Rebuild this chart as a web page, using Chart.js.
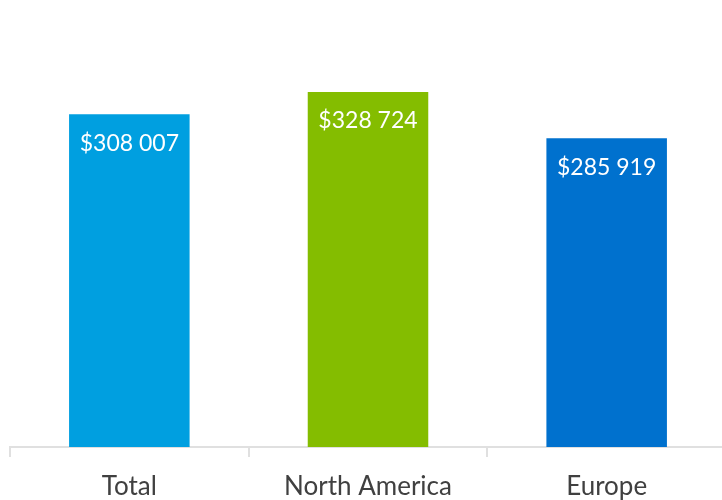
<!DOCTYPE html>
<html>
<head>
<meta charset="utf-8">
<script src="https://cdn.jsdelivr.net/npm/chart.js@4"></script>
<style>
  html, body { margin: 0; padding: 0; background: #fff; overflow: hidden; }
  #clip { width: 722px; height: 500px; overflow: hidden; }
  #wrap { width: 726px; height: 500px; }
</style>
</head>
<body>
<div id="clip"><div id="wrap"><canvas id="myChart"></canvas></div></div>
<script>
"use strict";

const categories = ["Total", "North America", "Europe"];
const values = [308007, 328724, 285919];
const barColors = ["#009FE0", "#84BD00", "#0071CE"];

// "$308 007" style
const money = (v) => "$" + v.toString().replace(/\B(?=(\d{3})+(?!\d))/g, " ");

// value labels drawn inside the top of each bar
const valueLabels = {
  id: "valueLabels",
  afterDatasetsDraw(chart) {
    const ctx = chart.ctx;
    const meta = chart.getDatasetMeta(0);
    ctx.save();
    ctx.fillStyle = "#ffffff";
    ctx.font = "23px Lato";
    ctx.textAlign = "center";
    ctx.textBaseline = "middle";
    meta.data.forEach((bar, i) => {
      ctx.fillText(money(values[i]), bar.x, bar.y + 29);
    });
    ctx.restore();
  }
};

const data = {
  labels: categories,
  datasets: [{
    data: values,
    backgroundColor: barColors,
    barPercentage: 0.505,
    categoryPercentage: 1
  }]
};

const config = {
  type: "bar",
  data,
  options: {
    responsive: true,
    maintainAspectRatio: false,
    animation: false,
    layout: { padding: { left: 10, right: 0, top: 15, bottom: 0 } },
    plugins: {
      legend: { display: false },
      tooltip: { enabled: false }
    },
    scales: {
      x: {
        afterFit(scale) { scale.height = 53; },
        grid: {
          display: true,
          offset: true,
          drawOnChartArea: false,
          drawTicks: true,
          tickLength: 10,
          color: "#e0e0e0",
          lineWidth: 2
        },
        border: { display: true, color: "#e0e0e0", width: 2 },
        ticks: {
          color: "#404040",
          font: { family: "Lato", size: 26 },
          padding: 14
        }
      },
      y: {
        display: false,
        min: 0,
        max: 400000
      }
    }
  },
  plugins: [valueLabels]
};

const myChart = new Chart(document.getElementById("myChart"), config);
</script>
</body>
</html>
